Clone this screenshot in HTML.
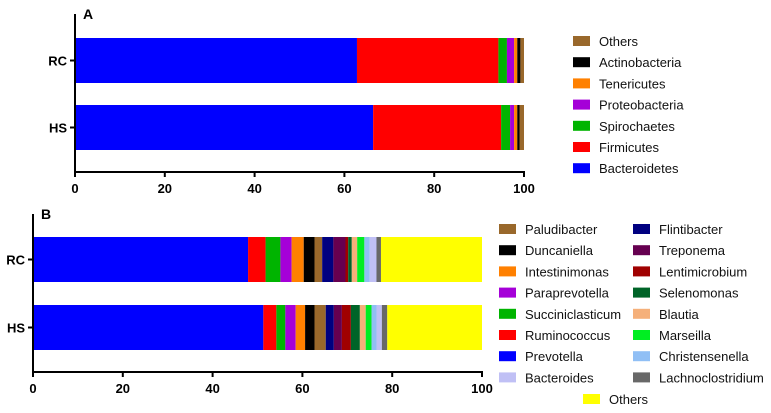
<!DOCTYPE html>
<html><head><meta charset="utf-8"><style>
body{margin:0;background:#fff}
svg{display:block;font-family:"Liberation Sans",Arial,sans-serif}
</style></head><body>
<svg id="chart" width="771" height="413" viewBox="0 0 771 413"></svg>
<script>
const groups = ["RC","HS"];
const phylaNames = ["Bacteroidetes","Firmicutes","Spirochaetes","Proteobacteria","Tenericutes","Actinobacteria","Others"];
const phylaColors = ["#0000ff","#ff0000","#00b400","#a500d8","#ff8000","#000000","#99682b"];
const phylaRC = [62.8,31.5,1.9,1.6,0.7,0.7,0.8];
const phylaHS = [66.4,28.5,2.0,0.9,0.7,0.5,1.0];
const genusNames = ["Prevotella","Ruminococcus","Succiniclasticum","Paraprevotella","Intestinimonas","Duncaniella","Paludibacter","Flintibacter","Treponema","Lentimicrobium","Selenomonas","Blautia","Marseilla","Christensenella","Bacteroides","Lachnoclostridium","Others"];
const genusColors = ["#0000ff","#ff0000","#00b400","#a500d8","#ff8000","#000000","#99682b","#000080","#660050","#a00000","#006428","#f5b07a","#00ee22","#90bff5","#c0c0f5","#686868","#ffff00"];
const genusRC = [47.9,3.9,3.3,2.5,2.7,2.4,1.7,2.5,2.7,0.6,0.8,1.2,1.6,1.2,1.5,1.0,22.5];
const genusHS = [51.3,2.9,2.0,2.3,2.1,2.1,2.5,1.8,1.8,2.0,2.0,1.3,1.3,1.1,1.2,1.2,21.1];
const ticks = [0,20,40,60,80,100];

const svg = document.getElementById('chart');
const NS = "http://www.w3.org/2000/svg";
function el(tag, attrs, parent){const e=document.createElementNS(NS,tag);for(const k in attrs)e.setAttribute(k,attrs[k]);(parent||svg).appendChild(e);return e;}

function panel(cfg){
  const x = v => cfg.x0 + v/100*(cfg.x1-cfg.x0);
  cfg.data.forEach((vals,gi)=>{
    let acc=0;
    const y=cfg.barY[gi];
    vals.forEach((v,i)=>{
      const r=el('rect',{x:x(acc),y:y,width:Math.max(0,x(acc+v)-x(acc)),height:cfg.barH,fill:cfg.colors[i]});
      
      
      acc+=v;
    });
    const t=el('line',{x1:cfg.x0-5,x2:cfg.x0,y1:y+cfg.barH/2,y2:y+cfg.barH/2,stroke:'#000','stroke-width':2});
    
    
    const lb=el('text',{x:cfg.x0-8,y:y+cfg.barH/2+5,'text-anchor':'end','font-size':13,'font-weight':'bold'});
    lb.textContent=groups[gi];
    
    
  });
  const ya=el('line',{x1:cfg.x0,x2:cfg.x0,y1:cfg.top,y2:cfg.axisY+1,stroke:'#000','stroke-width':2});
  
  
  const xa=el('line',{x1:cfg.x0-1,x2:cfg.x1+1,y1:cfg.axisY,y2:cfg.axisY,stroke:'#000','stroke-width':2});
  
  
  ticks.forEach(tv=>{
    const tk=el('line',{x1:x(tv),x2:x(tv),y1:cfg.axisY,y2:cfg.axisY+5,stroke:'#000','stroke-width':2});
    
    
    const tl=el('text',{x:x(tv),y:cfg.axisY+21,'text-anchor':'middle','font-size':13,'font-weight':'bold'});
    tl.textContent=tv;
    
    
  });
  const ttl=el('text',{x:cfg.x0+8,y:cfg.top+5,'font-size':14,'font-weight':'bold'});
  ttl.textContent=cfg.label;
  
  
}

panel({id:'panel-a',label:'A',x0:75,x1:524,top:14,axisY:172,barY:[38,105],barH:45,data:[phylaRC,phylaHS],colors:phylaColors,names:phylaNames});
panel({id:'panel-b',label:'B',x0:33,x1:482,top:214,axisY:372,barY:[237,305],barH:45,data:[genusRC,genusHS],colors:genusColors,names:genusNames});

function legendItem(name,color,sx,ty,prefix){
  const g=el('g',{});
  
  
  el('rect',{x:sx,y:ty-5,width:17,height:10,fill:color},g);
  const t=el('text',{x:sx+26,y:ty+5,'font-size':13,fill:'#111'},g);
  t.textContent=name;
}
// Legend A (reverse order, top = Others)
for(let i=phylaNames.length-1,r=0;i>=0;i--,r++){
  legendItem(phylaNames[i],phylaColors[i],573,41+r*21.2,'panel-a');
}
// Legend B
const col1=["Paludibacter","Duncaniella","Intestinimonas","Paraprevotella","Succiniclasticum","Ruminococcus","Prevotella","Bacteroides"];
const col2=["Flintibacter","Treponema","Lentimicrobium","Selenomonas","Blautia","Marseilla","Christensenella","Lachnoclostridium"];
col1.forEach((n,r)=>legendItem(n,genusColors[genusNames.indexOf(n)],499,229+r*21.2,'panel-b'));
col2.forEach((n,r)=>legendItem(n,genusColors[genusNames.indexOf(n)],633,229+r*21.2,'panel-b'));
legendItem("Others",genusColors[16],583,399,'panel-b');
</script>
</body></html>
